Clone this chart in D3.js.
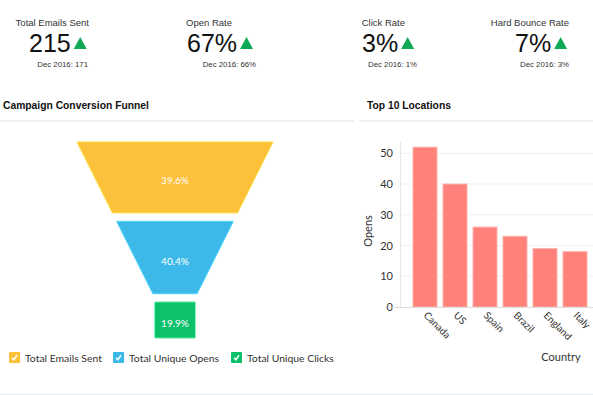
<!DOCTYPE html>
<html>
<head>
<meta charset="utf-8">
<script src="https://cdn.jsdelivr.net/npm/d3@7"></script>
<style>
  body { margin: 0; background: #fff; }
  svg { display: block; font-family: "Liberation Sans", Arial, sans-serif; }
  .lato { font-family: Lato, "Open Sans", sans-serif; }
</style>
</head>
<body>
<svg width="593" height="395"></svg>
<script>
// KPI cards
var kpiLabels = ["Total Emails Sent", "Open Rate", "Click Rate", "Hard Bounce Rate"];
var kpiValues = ["215", "67%", "3%", "7%"];
var kpiPrevious = ["Dec 2016: 171", "Dec 2016: 66%", "Dec 2016: 1%", "Dec 2016: 3%"];

// funnel
var funnelStages = ["Total Emails Sent", "Total Unique Opens", "Total Unique Clicks"];
var funnelPercents = [39.6, 40.4, 19.9];
var funnelColors = ["#fdc03b", "#3cb9e8", "#0dc06c"];

// top locations
var countries = ["Canada", "US", "Spain", "Brazil", "England", "Italy"];
var opens = [52, 40, 26, 23, 19, 18];
var yTicks = [0, 10, 20, 30, 40, 50];

var svg = d3.select("svg");

// ---- KPI row ----
// label right edge, value left edge, sub right edge for each card
var kpiLayout = [
  { label: 89, value: 29, sub: 88 },
  { label: 232, value: 187, sub: 256 },
  { label: 405, value: 362, sub: 417 },
  { label: 569, value: 515, sub: 569 }
];

kpiLabels.forEach(function(d, i) {
  var L = kpiLayout[i];
  var g = svg.append("g");
  g.append("text")
    .attr("x", L.label).attr("y", 26)
    .attr("text-anchor", "end")
    .attr("font-size", 9.5)
    .attr("fill", "#333")
    .text(d);
  var v = g.append("text")
    .attr("x", L.value).attr("y", 52)
    .attr("font-size", 25)
    .attr("fill", "#111")
    .text(kpiValues[i]);
  var w = v.node().getComputedTextLength();
  var tx = L.value + w + 3;
  g.append("path")
    .attr("d", "M" + tx + ",49 L" + (tx + 13) + ",49 L" + (tx + 6.5) + ",37 Z")
    .attr("fill", "#10a957");
  g.append("text")
    .attr("x", L.sub).attr("y", 67)
    .attr("text-anchor", "end")
    .attr("font-size", 7.8)
    .attr("fill", "#333")
    .text(kpiPrevious[i]);
});

// ---- section titles + dividers ----
svg.append("text").attr("x", 3).attr("y", 109)
  .attr("font-size", 10.3).attr("font-weight", "bold").attr("fill", "#111")
  .text("Campaign Conversion Funnel");
svg.append("text").attr("x", 367).attr("y", 109)
  .attr("font-size", 10.3).attr("font-weight", "bold").attr("fill", "#111")
  .text("Top 10 Locations");
svg.append("line").attr("x1", 0).attr("x2", 355).attr("y1", 121).attr("y2", 121)
  .attr("stroke", "#e4e4e4");
svg.append("line").attr("x1", 359).attr("x2", 593).attr("y1", 121).attr("y2", 121)
  .attr("stroke", "#e4e4e4");
svg.append("line").attr("x1", 0).attr("x2", 593).attr("y1", 394.5).attr("y2", 394.5)
  .attr("stroke", "#e6efef");

// ---- funnel ----
var cx = 175, fTop = 142, gap = 8.5;
var hScale = d3.scaleLinear().domain([0, 100]).range([0, 179]);
var halfW = d3.scaleLinear().domain([142, 294]).range([98, 22]);
var neck = 20;

var segs = [];
var yy = fTop;
funnelPercents.forEach(function(p, i) {
  var h = hScale(p);
  segs.push({ y0: yy, y1: yy + h, p: p, c: funnelColors[i], last: i === funnelPercents.length - 1 });
  yy += h + gap;
});

var fg = svg.append("g");
fg.selectAll("path").data(segs).enter().append("path")
  .attr("d", function(d) {
    var a = d.last ? neck : halfW(d.y0), b = d.last ? neck : halfW(d.y1);
    return "M" + (cx - a) + "," + d.y0 + "L" + (cx + a) + "," + d.y0 +
      "L" + (cx + b) + "," + d.y1 + "L" + (cx - b) + "," + d.y1 + "Z";
  })
  .attr("fill", function(d) { return d.c; })
  .attr("stroke", function(d) { return d3.color(d.c).brighter(0.4); })
  .attr("stroke-width", 1);
fg.selectAll("text").data(segs).enter().append("text")
  .attr("class", "lato")
  .attr("x", cx)
  .attr("y", function(d) { return (d.y0 + d.y1) / 2 + 7; })
  .attr("text-anchor", "middle")
  .attr("font-size", 10)
  .attr("fill", "#fff")
  .text(function(d) { return d.p.toFixed(1) + "%"; });

// legend
var legX = [9, 113, 231];
var lg = svg.append("g").attr("class", "lato");
funnelStages.forEach(function(s, i) {
  var g = lg.append("g").attr("transform", "translate(" + legX[i] + ",352)");
  g.append("rect").attr("width", 11).attr("height", 11).attr("rx", 1)
    .attr("fill", funnelColors[i]);
  g.append("path").attr("d", "M3,5.8 L4.8,7.8 L8,3.2")
    .attr("fill", "none").attr("stroke", "#fff").attr("stroke-width", 1.5);
  g.append("text").attr("x", 16).attr("y", 9.5)
    .attr("font-size", 10.4).attr("fill", "#333")
    .text(s);
});

// ---- bar chart ----
var x = d3.scaleBand().domain(countries).range([410, 590])
  .paddingInner(0.2).paddingOuter(0.1);
var y = d3.scaleLinear().domain([0, 50]).range([307, 153.3]);

var bg = svg.append("g").attr("class", "lato");

bg.selectAll(".grid").data(yTicks.slice(1)).enter().append("line")
  .attr("x1", 400).attr("x2", 593)
  .attr("y1", function(d) { return y(d); }).attr("y2", function(d) { return y(d); })
  .attr("stroke", "#f0f0f0");

bg.append("line").attr("x1", 400.5).attr("x2", 400.5).attr("y1", 142).attr("y2", 307)
  .attr("stroke", "#e6e6e6");

bg.selectAll(".bar").data(countries).enter().append("rect")
  .attr("x", function(d) { return x(d); })
  .attr("width", x.bandwidth())
  .attr("y", function(d, i) { return y(opens[i]); })
  .attr("height", function(d, i) { return y(0) - y(opens[i]); })
  .attr("fill", "#ff8179")
  .attr("stroke", "#ffb2ad")
  .attr("stroke-width", 1);

var yAxis = bg.append("g").attr("transform", "translate(400,0)")
  .call(d3.axisLeft(y).tickValues(yTicks).tickSize(0).tickPadding(7));
yAxis.select(".domain").remove();
yAxis.selectAll("text").attr("font-size", 11).attr("fill", "#333")
  .attr("font-family", "Lato, sans-serif");

bg.append("line").attr("x1", 392).attr("x2", 593).attr("y1", 307.5).attr("y2", 307.5)
  .attr("stroke", "#dcdcdc");

var xAxis = bg.append("g").attr("transform", "translate(0,307)")
  .call(d3.axisBottom(x).tickSize(0).tickPadding(0));
xAxis.select(".domain").remove();
xAxis.selectAll("text")
  .attr("font-size", 10).attr("fill", "#333")
  .attr("font-family", "Lato, sans-serif")
  .attr("text-anchor", "start")
  .attr("dy", 0)
  .attr("transform", "translate(-2,9) rotate(45)");

bg.append("text")
  .attr("transform", "translate(372,231) rotate(-90)")
  .attr("text-anchor", "middle")
  .attr("font-size", 11).attr("fill", "#333")
  .text("Opens");
bg.append("text")
  .attr("x", 561).attr("y", 361)
  .attr("text-anchor", "middle")
  .attr("font-size", 11).attr("fill", "#333")
  .text("Country");
</script>
</body>
</html>
